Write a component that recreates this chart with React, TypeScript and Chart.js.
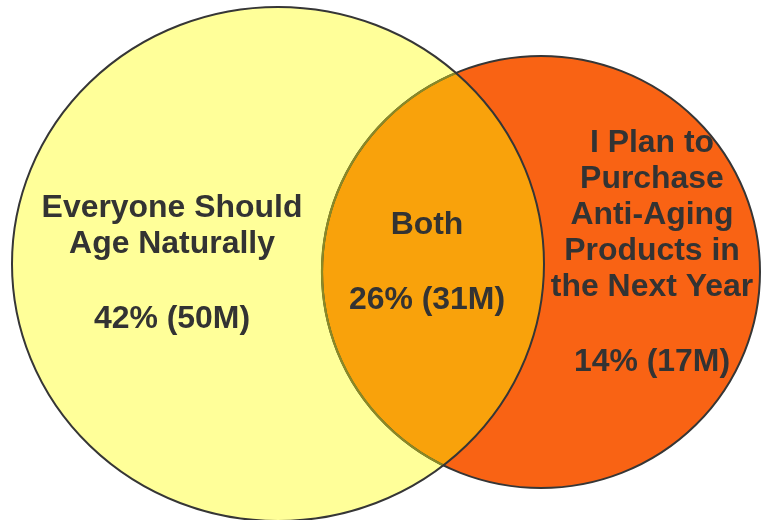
import React, { useEffect, useRef } from "react";
import { Chart, registerables } from "chart.js";

Chart.register(...registerables);

// Venn sets (left, right)
const setNames = ["Everyone Should Age Naturally", "I Plan to Purchase Anti-Aging Products in the Next Year"];
const circleCenterX = [278, 541];
const circleCenterY = [264, 272];
const circleRadiusX = [266, 219];
const circleRadiusY = [257, 216];

// Regions: left only, both, right only
const regionTitles = [
  ["Everyone Should", "Age Naturally"],
  ["Both"],
  ["I Plan to", "Purchase", "Anti-Aging", "Products in", "the Next Year"],
];
const regionPercents = [42, 26, 14];
const regionMillions = [50, 31, 17];
const regionLabelX = [172, 427, 652];
const regionTitleY = [206, 223, 141];
const regionValueY = [317, 298, 360];

const W = 762;
const H = 520;

const YELLOW = "#FFFF99";
const ORANGE = "#F96314";
const OVERLAP = "#F9A20B";
const OUTLINE = "#363636";
const OLIVE = "#8A8A26";
const TEXT = "#333333";

const vennPlugin = {
  id: "venn",
  beforeDatasetsDraw(chart: any) {
    const { ctx, scales } = chart;
    const xs = scales.x;
    const ys = scales.y;
    const ell = (i: number) => {
      const cx = xs.getPixelForValue(circleCenterX[i]);
      const cy = ys.getPixelForValue(circleCenterY[i]);
      const rx = Math.abs(xs.getPixelForValue(circleCenterX[i] + circleRadiusX[i]) - cx);
      const ry = Math.abs(ys.getPixelForValue(circleCenterY[i] + circleRadiusY[i]) - cy);
      ctx.beginPath();
      ctx.ellipse(cx, cy, rx, ry, 0, 0, Math.PI * 2);
    };
    ctx.save();
    ell(0);
    ctx.fillStyle = YELLOW;
    ctx.fill();
    ell(1);
    ctx.fillStyle = ORANGE;
    ctx.fill();
    ctx.save();
    ell(0);
    ctx.clip();
    ell(1);
    ctx.fillStyle = OVERLAP;
    ctx.fill();
    ctx.restore();

    ctx.lineWidth = 2;
    ell(1);
    ctx.strokeStyle = OUTLINE;
    ctx.stroke();
    ctx.save();
    ell(0);
    ctx.clip();
    ell(1);
    ctx.strokeStyle = OLIVE;
    ctx.lineWidth = 2.2;
    ctx.stroke();
    ctx.restore();
    ell(0);
    ctx.strokeStyle = OUTLINE;
    ctx.lineWidth = 2;
    ctx.stroke();

    // labels
    ctx.fillStyle = TEXT;
    ctx.font = "bold 31px 'Liberation Sans', Arial, sans-serif";
    ctx.textAlign = "center";
    ctx.textBaseline = "alphabetic";
    const capHalf = 11;
    const lineH = 36;
    const stretch = 1.03;
    const draw = (text: string, x: number, y: number) => {
      ctx.save();
      ctx.translate(x, y);
      ctx.scale(stretch, 1);
      ctx.fillText(text, 0, 0);
      ctx.restore();
    };
    for (let r = 0; r < regionTitles.length; r++) {
      const px = xs.getPixelForValue(regionLabelX[r]);
      const lines = regionTitles[r];
      for (let l = 0; l < lines.length; l++) {
        const py = ys.getPixelForValue(regionTitleY[r] + l * lineH) + capHalf;
        draw(lines[l], px, py);
      }
      const vy = ys.getPixelForValue(regionValueY[r]) + capHalf;
      draw(`${regionPercents[r]}% (${regionMillions[r]}M)`, px, vy);
    }
    ctx.restore();
  },
};

export default function App() {
  const ref = useRef<HTMLCanvasElement | null>(null);
  useEffect(() => {
    document.body.style.margin = "0";
    const canvas = ref.current!;
    const chart = new Chart(canvas, {
      type: "scatter",
      data: {
        datasets: setNames.map((name, i) => ({
          label: name,
          data: [{ x: circleCenterX[i], y: circleCenterY[i] }],
          pointRadius: 0,
          pointHoverRadius: 0,
        })),
      },
      options: {
        responsive: false,
        animation: false,
        events: [],
        layout: { padding: 0 },
        plugins: { legend: { display: false }, tooltip: { enabled: false } },
        scales: {
          x: { type: "linear", min: 0, max: W, display: false },
          y: { type: "linear", min: 0, max: H, reverse: true, display: false },
        },
      },
      plugins: [vennPlugin],
    });
    return () => chart.destroy();
  }, []);
  return (
    <div style={{ position: "fixed", left: 0, top: 0, width: W, height: H, background: "#fff" }}>
      <canvas ref={ref} width={W} height={H} style={{ width: W, height: H, display: "block" }} />
    </div>
  );
}
